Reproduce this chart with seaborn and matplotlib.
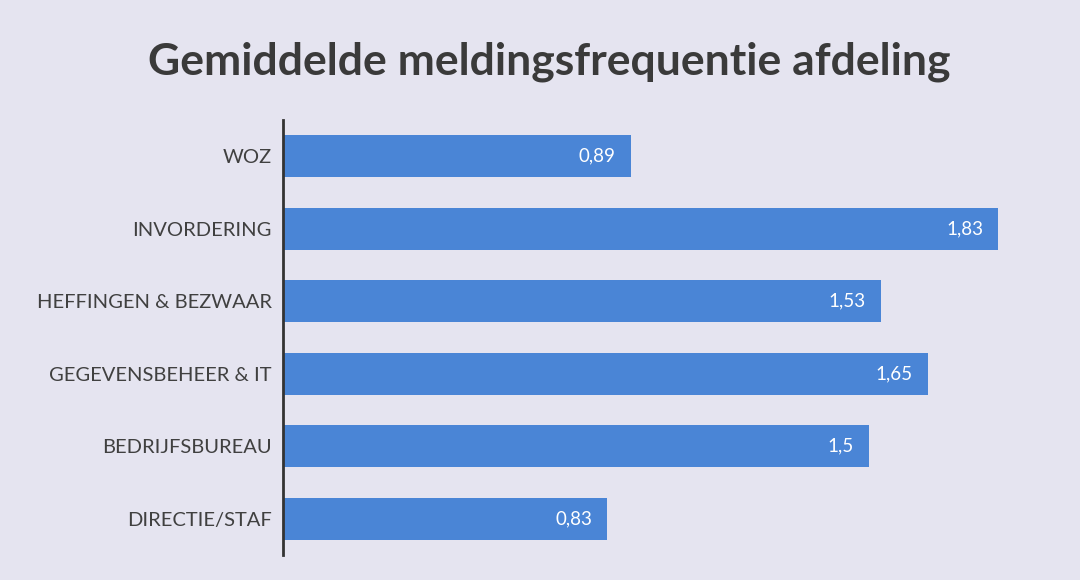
import matplotlib
matplotlib.use("Agg")
import matplotlib.pyplot as plt
import seaborn as sns
import pandas as pd

afdelingen = ["WOZ", "INVORDERING", "HEFFINGEN & BEZWAAR",
              "GEGEVENSBEHEER & IT", "BEDRIJFSBUREAU", "DIRECTIE/STAF"]
frequentie = [0.89, 1.83, 1.53, 1.65, 1.5, 0.83]
labels = ["0,89", "1,83", "1,53", "1,65", "1,5", "0,83"]

df = pd.DataFrame({"afdeling": afdelingen, "freq": frequentie})

sns.set_style("white")
plt.rcParams["font.family"] = ["Lato", "DejaVu Sans"]

bg = "#e5e4f0"
fig = plt.figure(figsize=(10.8, 5.8), dpi=100, facecolor=bg)
ax = fig.add_axes([0.262, 0.043, 0.724, 0.75])
ax.set_facecolor(bg)

sns.barplot(data=df, x="freq", y="afdeling", color="#4a85d6", width=0.58,
            saturation=1, linewidth=0, ax=ax)

# waarde rechts in de balk
for i, (v, lab) in enumerate(zip(frequentie, labels)):
    ax.annotate(lab, (v, i), xytext=(-11, 0), textcoords="offset points",
                ha="right", va="center", color="white", fontsize=13.5)

ax.set_xlim(0, 2.0)
ax.set_ylim(5.5, -0.5)
ax.set_xlabel("")
ax.set_ylabel("")
ax.set_xticks([])
for s in ["top", "right", "bottom"]:
    ax.spines[s].set_visible(False)
ax.spines["left"].set_color("#333333")
ax.spines["left"].set_linewidth(2)
ax.tick_params(axis="y", length=0, pad=8, labelsize=14.5, labelcolor="#404040")

fig.text(0.509, 0.893, "Gemiddelde meldingsfrequentie afdeling", ha="center",
         va="center", fontsize=32, fontweight="bold", color="#3a3a3a")

fig.savefig("out.png", dpi=100, facecolor=bg)
